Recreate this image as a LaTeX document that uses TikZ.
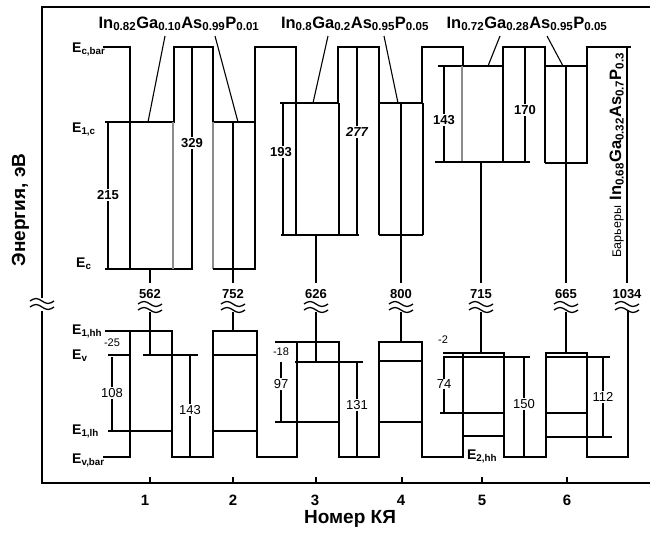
\documentclass[tikz,border=0pt]{standalone}
\usepackage{fontspec}
\setmainfont{Liberation Sans}
\newcommand{\sbt}[1]{\textsubscript{#1}}
\newcommand{\brkmark}[2]{%
  \foreach \dy in {-3,3}{%
    \draw[brk] ({#1-12},{#2+\dy}) sin ({#1-6},{#2+\dy-2.5}) cos ({#1},{#2+\dy}) sin ({#1+6},{#2+\dy+2.5}) cos ({#1+12},{#2+\dy});}}
\begin{document}
\begin{tikzpicture}[x=1pt,y=-1pt,
  prof/.style={line width=2.4pt, line join=miter},
  lev/.style={line width=1.1pt},
  levb/.style={line width=1.8pt},
  faint/.style={line width=1.1pt, black!45},
  axis/.style={line width=2pt},
  brk/.style={line width=1.3pt},
  form/.style={font=\fontsize{16.5}{17}\selectfont\bfseries, inner sep=0pt, anchor=base},
  elab/.style={font=\fontsize{14}{14}\selectfont\bfseries, inner sep=0pt, anchor=base west},
  numb/.style={font=\fontsize{13}{13}\selectfont\bfseries, inner sep=1pt, fill=white},
  numl/.style={font=\fontsize{13}{13}\selectfont, inner sep=1pt, fill=white},
  nums/.style={font=\fontsize{11}{11}\selectfont, inner sep=0pt},
  ticklab/.style={font=\fontsize{15}{15}\selectfont\bfseries},
  title/.style={font=\fontsize{19}{19}\selectfont\bfseries}]
\useasboundingbox (0,0) rectangle (655,533);
\fill[white] (0,0) rectangle (655,533);

% frame / axes
\draw[axis] (42,298) -- (42,7) -- (650,7);
\draw[axis] (42,311) -- (42,483) -- (650,483);
\brkmark{42}{304}
\foreach \x in {150,233,316,402,482,567} \draw[lev] (\x,483) -- (\x,477);
\node[ticklab] (t1) at (145,500) {1};
\node[ticklab] (t2) at (233,500) {2};
\node[ticklab] (t3) at (315,500) {3};
\node[ticklab] (t4) at (401,500) {4};
\node[ticklab] (t5) at (482,500) {5};
\node[ticklab] (t6) at (567,500) {6};
\node[title] (xt) at (350,519) {Номер КЯ};
\node[title, rotate=90, anchor=base] (yt) at (25,210) {Энергия, эВ};

% conduction band profile
\draw[prof] (103,47) -- (130,47) -- (130,122) -- (174,122) -- (174,47) -- (213,47) -- (213,122) -- (255,122) -- (255,47)
  -- (296,47) -- (296,103) -- (338,103) -- (338,47) -- (379,47) -- (379,103) -- (422,103) -- (422,47)
  -- (463,47) -- (463,66) -- (503,66) -- (503,47) -- (545,47) -- (545,66) -- (587,66) -- (587,47) -- (631,47);

% QW1 (conduction)
\draw[lev] (105,122) -- (130,122);
\draw[levb] (105,269) -- (193,269);
\draw[lev] (130,122) -- (130,269);
\draw[faint] (173,122) -- (173,269);
\draw[lev] (108,122) -- (108,269);
\draw[lev] (192,47) -- (192,269);
\draw[lev] (150,269) -- (150,283);
% QW2
\draw[faint] (213,122) -- (213,269);
\draw[lev] (255,122) -- (255,269);
\draw[lev] (213,269) -- (256,269);
\draw[lev] (233,122) -- (233,283);
% QW3
\draw[lev] (280,103) -- (296,103);
\draw[lev] (283,103) -- (283,235);
\draw[lev] (296,103) -- (296,235);
\draw[lev] (339,103) -- (339,235);
\draw[lev] (357,47) -- (357,235);
\draw[lev] (281,235) -- (359,235);
\draw[lev] (316,235) -- (316,283);
% QW4
\draw[lev] (379,103) -- (379,235);
\draw[lev] (423,103) -- (423,235);
\draw[lev] (379,235) -- (423,235);
\draw[lev] (401,103) -- (401,283);
% QW5
\draw[lev] (438,66) -- (463,66);
\draw[lev] (444,66) -- (444,162);
\draw[faint] (462,66) -- (462,162);
\draw[lev] (503,66) -- (503,162);
\draw[lev] (525,47) -- (525,162);
\draw[levb] (435,162) -- (530,162);
\draw[lev] (481,162) -- (481,283);
% QW6
\draw[lev] (545,66) -- (545,163);
\draw[lev] (587,66) -- (587,163);
\draw[levb] (545,163) -- (588,163);
\draw[lev] (566,66) -- (566,283);
% barrier
\draw[lev] (627,47) -- (627,283);

% formula labels and pointers
\node[form] (f1) at (179,28) {In\sbt{0.82}Ga\sbt{0.10}As\sbt{0.99}P\sbt{0.01}};
\node[form] (f2) at (355,28) {In\sbt{0.8}Ga\sbt{0.2}As\sbt{0.95}P\sbt{0.05}};
\node[form] (f3) at (527,28) {In\sbt{0.72}Ga\sbt{0.28}As\sbt{0.95}P\sbt{0.05}};
\coordinate (s1) at (165,36); \coordinate (w1) at (148,122);
\coordinate (s2) at (215,36); \coordinate (w2) at (238,122);
\coordinate (s3) at (328,36); \coordinate (w3) at (313,103);
\coordinate (s4) at (384,36); \coordinate (w4) at (398,103);
\coordinate (s5) at (500,36); \coordinate (w5) at (488,66);
\coordinate (s6) at (547,36); \coordinate (w6) at (563,66);
\draw[lev] (s1) -- (w1); \draw[lev] (s2) -- (w2);
\draw[lev] (s3) -- (w3); \draw[lev] (s4) -- (w4);
\draw[lev] (s5) -- (w5); \draw[lev] (s6) -- (w6);

\node[rotate=90, anchor=base, inner sep=0pt] (bar) at (621,155)
  {{\fontsize{12.5}{13}\selectfont Барьеры}\ \ {\fontsize{16.5}{17}\selectfont\bfseries In\sbt{0.68}Ga\sbt{0.32}As\sbt{0.7}P\sbt{0.3}}};

% left labels
\node[elab] (lecb) at (72,52) {E\sbt{c,bar}};
\node[elab] (le1c) at (72,132) {E\sbt{1,c}};
\node[elab] (lec) at (76,267) {E\sbt{c}};
\node[elab] (le1hh) at (72,334) {E\sbt{1,hh}};
\node[elab] (lev) at (72,359) {E\sbt{v}};
\node[elab] (le1lh) at (72,434) {E\sbt{1,lh}};
\node[elab] (levb) at (72,463) {E\sbt{v,bar}};

% numbers (conduction)
\node[numb] (n215) at (108,195) {215};
\node[numb] (n329) at (192,143) {329};
\node[numb] (n193) at (281,152) {193};
\node[numb, font=\fontsize{13}{13}\selectfont\bfseries\itshape] (n277) at (357,132) {277};
\node[numb] (n143c) at (444,120) {143};
\node[numb] (n170) at (525,110) {170};

% gap values and breaks
\foreach \x/\v in {150/562,233/752,316/626,401/800,481/715,566/665,627/1034}{
  \node[numb] at (\x,294) {\v};
  \brkmark{\x}{307}
}

% valence band profile
\draw[prof] (103,457) -- (130,457) -- (130,331) -- (172,331) -- (172,457) -- (213,457) -- (213,331) -- (257,331) -- (257,457)
  -- (297,457) -- (297,342) -- (339,342) -- (339,457) -- (379,457) -- (379,342) -- (422,342) -- (422,457)
  -- (463,457) -- (463,353) -- (504,353) -- (504,457) -- (546,457) -- (546,353) -- (587,353) -- (587,457) -- (628,457) -- (628,311);

% gap lines in valence part
\draw[lev] (150,312) -- (150,355);
\draw[lev] (233,312) -- (233,331);
\draw[lev] (316,312) -- (316,362);
\draw[lev] (401,312) -- (401,342);
\draw[lev] (481,312) -- (481,353);
\draw[lev] (566,312) -- (566,353);

% QW1 valence
\draw[lev] (105,331) -- (130,331);
\draw[lev] (108,355) -- (130,355);
\draw[lev] (143,355) -- (198,355);
\draw[lev] (112,357) -- (112,431);
\draw[levb] (108,431) -- (172,431);
\draw[lev] (190,355) -- (190,457);
% QW2
\draw[lev] (213,355) -- (257,355);
\draw[levb] (213,431) -- (257,431);
% QW3
\draw[lev] (275,342) -- (297,342);
\draw[lev] (295,362) -- (363,362);
\draw[lev] (281,362) -- (281,422);
\draw[lev] (275,422) -- (339,422);
\draw[lev] (357,362) -- (357,457);
% QW4
\draw[lev] (379,361) -- (422,361);
\draw[lev] (379,422) -- (422,422);
% QW5
\draw[levb] (443,353) -- (463,353);
\draw[lev] (443,357) -- (530,357);
\draw[lev] (444,357) -- (444,413);
\draw[lev] (440,413) -- (504,413);
\draw[levb] (463,436) -- (504,436);
\draw[lev] (524,357) -- (524,457);
% QW6
\draw[lev] (546,357) -- (610,357);
\draw[levb] (546,413) -- (587,413);
\draw[lev] (546,437) -- (612,437);
\draw[lev] (603,357) -- (603,437);

% numbers (valence)
\node[nums] (m25) at (112,343) {-25};
\node[numl] (n108) at (112,393) {108};
\node[numl] (n143v) at (190,410) {143};
\node[nums] (m18) at (281,352) {-18};
\node[numl] (n97) at (281,384) {97};
\node[numl] (n131) at (357,405) {131};
\node[nums] (m2) at (443,340) {-2};
\node[numl] (n74) at (444,384) {74};
\node[numl] (n150) at (524,404) {150};
\node[numl] (n112) at (603,397) {112};
\node[elab, anchor=base] (le2hh) at (482,459) {E\sbt{2,hh}};
\end{tikzpicture}
\end{document}
